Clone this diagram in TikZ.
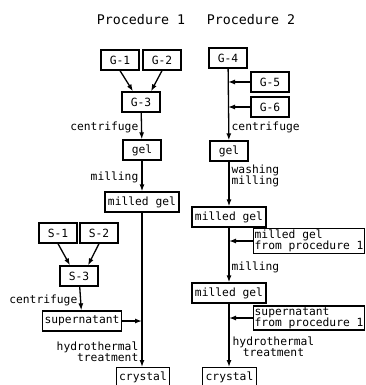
\documentclass[tikz,border=0pt]{standalone}
\usepackage{fontspec}
\setmonofont{DejaVu Sans Mono}
\usepackage{tikz}
\usetikzlibrary{arrows.meta}

\begin{document}
\begin{tikzpicture}[x=1pt, y=-1pt, line width=1.3pt,
    every node/.style={font=\fontsize{11.3}{11.5}\selectfont\ttfamily},
    box/.style={draw, inner xsep=3pt, inner ysep=2pt, minimum height=20pt, minimum width=38pt},
    note/.style={draw, align=left, inner xsep=1pt, inner ysep=1pt},
    lbl/.style={inner sep=0pt},
    arr/.style={-{Latex[length=7pt, width=5pt]}}]
  \useasboundingbox (0,0) rectangle (365,385);
  \node (t1) at (141,20) {\fontsize{13.3}{14}\selectfont Procedure 1};
  \node (t2) at (251,20) {\fontsize{13.3}{14}\selectfont Procedure 2};

  \node (g1) [box] at (120,60) {G-1};
  \node (g2) [box] at (162,60) {G-2};
  \node (g3) [box] at (141,102) {G-3};
  \node (gel1) [box] at (142,150) {gel};
  \node (mg1) [box] at (142,202) {milled gel};
  \node (s1) [box] at (58,233) {S-1};
  \node (s2) [box] at (99,233) {S-2};
  \node (s3) [box] at (79,276) {S-3};
  \node (sup) [box, minimum width=0pt, inner xsep=2pt] at (82,321) {supernatant};
  \node (cr1) [box, anchor=north] at (143,367) {crystal};
  \coordinate (j1) at (sup.east -| mg1.south);

  \draw[arr] (g1.south) -- ([xshift=-8pt]g3.north);
  \draw[arr] (g2.south) -- ([xshift=10pt]g3.north);
  \draw[arr] (g3) -- (gel1);
  \draw[arr] (gel1) -- (mg1);
  \draw[arr] (mg1.south) -- (mg1.south |- cr1.north);
  \draw[arr] (s1.south) -- ([xshift=-9pt]s3.north);
  \draw[arr] (s2.south) -- ([xshift=9pt]s3.north);
  \draw[arr] (s3) -- (sup);
  \draw[arr] (sup.east) -- (j1);
  \node (c1) [lbl, anchor=east] at (139,127) {centrifuge};
  \node (m1) [lbl, anchor=east] at (139,177) {milling};
  \node (c2) [lbl, anchor=east] at (78,300) {centrifuge};
  \node (h1) [lbl, anchor=east, align=right] at (139,352) {hydrothermal\\treatment};

  \node (g4) [box] at (228,58) {G-4};
  \node (g5) [box] at (270,82) {G-5};
  \node (g6) [box] at (270,107) {G-6};
  \node (gel2) [box] at (229,151) {gel};
  \node (mg2) [box] at (229,217) {milled gel};
  \node (fr1) [note, anchor=west] at (253,241) {milled gel\\from procedure 1};
  \node (mg3) [box] at (229,293) {milled gel};
  \node (fr2) [note, anchor=west] at (253,318) {supernatant\\from procedure 1};
  \node (cr2) [box, anchor=north] at (229.5,367) {crystal};

  \draw[arr] (g4) -- (gel2);
  \draw[arr] (g5) -- (g5 -| g4);
  \draw[arr] (g6) -- (g6 -| g4);
  \draw[arr] (gel2) -- (mg2);
  \draw[arr] (mg2) -- (mg3);
  \draw[arr] (fr1) -- (fr1 -| mg2);
  \draw[arr] (mg3.south) -- (mg3.south |- cr2.north);
  \draw[arr] (fr2) -- (fr2 -| mg3);
  \node (c3) [lbl, anchor=west] at (231,127) {centrifuge};
  \node (w1) [lbl, anchor=west, align=left] at (231,176) {washing\\milling};
  \node (m2) [lbl, anchor=west] at (231,267) {milling};
  \node (h2) [lbl, anchor=west, align=center] at (232,347) {hydrothermal\\treatment};
\end{tikzpicture}
\end{document}
